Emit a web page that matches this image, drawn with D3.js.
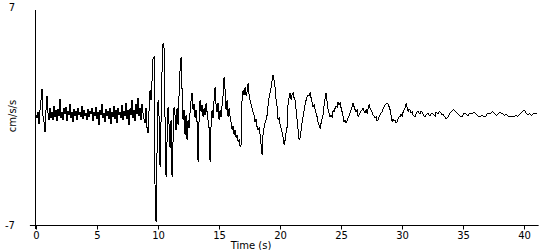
<!DOCTYPE html>
<html>
<head>
<meta charset="utf-8">
<script src="https://cdn.jsdelivr.net/npm/d3@7"></script>
<style>
	body { margin: 0; background: #fff; }
	text { font-family: "DejaVu Sans", sans-serif; font-size: 10px; fill: #000; }
</style>
</head>
<body>
<div id="chart-area"></div>
<script>

const width = 550;
const height = 250;
const margin = {top: 7, right: 26, bottom: 25, left: 36};

// sample interval of the record (s), first sample at t = 0
const sampleInterval = 0.082;

// acceleration samples (cm/s/s)
const accel = [
	0.06, -0.13, 0.26, -0.51, 0.39, 1.03, 1.74, 0, -0.39, -1.03,
	0.39, 1.29, 0.19, -0.26, 0.51, -0.13, 0.26, -0.26, 0.64, -0.06,
	0.39, -0.32, 0.45, 0, 1.09, -0.13, 0.26, -0.26, 0.51, 0.13,
	0.58, -0.32, 0.32, 0.06, 0.77, -0.13, 0.26, -0.39, 0.45, 0,
	0.32, -0.26, 0.51, 0.06, 0.26, -0.06, 0.64, -0.19, 0.39, 0,
	0.19, -0.26, 0.45, -0.06, 0.32, 0.13, 0.51, -0.32, 0.26, 0,
	0.58, -0.19, 0.26, -0.58, 0.39, 0.06, 0.77, -0.13, 0.19, -0.39,
	0.45, 0, 0.32, -0.19, 0.51, -0.51, 0.26, -0.06, 0.64, -0.19,
	0.39, -0.45, 0.51, 0.06, 0.26, -0.13, 0.71, -0.26, 0.32, 0,
	0.84, -0.19, 0.39, -0.58, 0.51, 0.06, 1.03, -0.13, 0.39, -0.32,
	0.77, 0.13, 1.16, 0, 0.51, -0.26, 0.77, 0.19, -0.19, -0.45,
	0.51, -0.77, -1.09, 0.39, 1.67, 1.03, 2.31, 3.73, 3.79, -4.76,
	-6.82, -2.19, 1.03, -0.06, -3.28, -0.26, 2.96, 4.69, 4.37, -0.26,
	-3.92, -1.54, 0.58, -0.58, -2.06, -0.26, -3.92, -1.54, 0.58, 0.06,
	-0.90, 0.51, -0.58, 1.35, 2.96, 3.79, 1.67, -0.26, 0.39, -1.22,
	0.06, -1.54, -0.26, -0.77, 0.26, 1.03, 1.48, 0.39, 0.77, -0.13,
	0.39, -0.39, -2.96, -0.26, 1.03, 0.26, 0.71, -0.06, 0.51, 0.06,
	0.84, 0.26, -0.26, -0.77, -2.96, -0.58, 0.39, -0.13, 1.03, 1.86,
	0.71, 0.26, 0.84, -0.26, 0.39, -0.06, 0.71, 1.35, 2.51, 1.67,
	0.39, 1.03, -0.06, 0.51, -0.06, -0.39, -0.90, -0.64, -1.22, -0.90,
	-1.41, -1.22, -1.67, -1.54, -1.99, -1.86, 1.16, 1.67, 1.35, 1.86,
	1.29, 1.54, 2.12, 1.35, 1.03, 0.77, 0.51, 0.26, 0.06, -0.39,
	-0.19, -0.71, -0.90, -0.77, -1.22, -1.86, -2.51, -1.09, -0.77, -0.45,
	-0.26, 0.06, 0.71, 1.22, 1.48, 1.80, 2.31, 2.64, 2.31, 1.80,
	1.03, 0.58, -0.26, -0.13, -0.58, -0.77, -1.03, -1.41, -1.86, -1.54,
	-1.03, -0.71, 0.84, 1.16, 1.48, 1.03, 1.35, 1.48, 1.16, 1.03,
	0.39, -0.26, -0.90, -1.54, -1.41, -0.90, -0.39, -0.06, 0.39, 0.71,
	1.03, 1.22, 1.35, 1.29, 1.48, 1.16, 0.84, 0.58, 0.71, 0.39,
	0.19, -0.06, -0.39, -0.58, -0.77, -0.45, -0.13, 0.06, 0.71, 1.16,
	1.48, 0.90, 0.39, 0.19, -0.06, 0.06, -0.06, 0.39, 0.26, 0.51,
	0.64, 0.58, 0.90, 0.71, 0.84, 0.51, 0.26, -0.06, -0.39, -0.26,
	-0.45, -0.32, -0.13, 0, 0.19, 0.39, 0.58, 0.84, 0.58, 0.39,
	0.26, 0.39, -0.06, 0.06, 0.19, 0.32, 0.39, 0.51, 0.32, 0.19,
	0.39, 0.19, 0.51, 0.71, 0.51, 0.39, 0.26, 0.06, 0, -0.13,
	-0.06, -0.32, -0.26, -0.06, 0.06, 0.19, 0.26, 0.45, 0.58, 0.71,
	0.77, 0.84, 0.77, 0.58, 0.39, 0, -0.39, -0.19, -0.32, -0.26,
	-0.45, -0.39, -0.19, -0.06, -0.06, 0.13, 0, 0.26, 0.39, 0.51,
	0.84, 0.51, 0.26, 0.45, 0.39, 0.19, 0.26, 0.06, 0, -0.06,
	0.13, 0.26, 0.32, 0.19, 0.13, 0.32, 0.26, 0.13, 0, -0.06,
	0.06, 0.13, 0.19, 0.06, 0, 0.13, 0.19, 0.13, 0.06, 0,
	0.26, 0.19, 0.13, 0.26, 0.26, 0.19, 0.06, 0.13, 0, -0.06,
	-0.19, -0.13, -0.06, 0.06, 0.19, 0.26, 0.32, 0.39, 0.39, 0.32,
	0.26, 0.19, 0.13, 0.06, 0, -0.06, -0.06, 0.06, 0.19, 0.19,
	0.13, 0.06, 0, 0.13, 0.19, 0.13, 0.13, 0.19, 0.26, 0.19,
	0.13, 0.06, 0, -0.06, -0.06, 0, 0.06, 0, -0.06, 0,
	0, 0.13, 0.19, 0.19, 0.13, 0.19, 0.26, 0.26, 0.19, 0.13,
	0.06, 0.06, 0.13, 0.19, 0.26, 0.19, 0.13, 0.13, 0.06, 0.06,
	0.13, 0.06, 0, 0, -0.06, 0, 0, -0.06, -0.06, 0,
	0.06, 0, 0, 0.06, 0.13, 0.19, 0.26, 0.32, 0.39, 0.32,
	0.19, 0.13, 0.06, 0.13, 0.13, 0.06, 0.06, 0.13, 0.13, 0.13,
	0.13, 0.13
];

// axis ticks
const timeTicks = [0, 5, 10, 15, 20, 25, 30, 35, 40];
const accelTicks = [-7, 7];

var svg = d3.select("#chart-area").append("svg")
	.attr("width", width)
	.attr("height", height);

// 比例尺
var x = d3.scaleLinear()
	.domain([0, 40])
	.range([margin.left, 524]);

var y = d3.scaleLinear()
	.domain([-7, 7])
	.range([height - margin.bottom, margin.top]);

var line = d3.line()
	.x((d, i) => x(i * sampleInterval))
	.y(d => y(d));

// 轴线
svg.append("line")
	.attr("x1", x(-0.5)).attr("x2", x(41.2))
	.attr("y1", y(-7) + 0.5).attr("y2", y(-7) + 0.5)
	.attr("stroke", "#000");
svg.append("line")
	.attr("x1", x(0) - 0.5).attr("x2", x(0) - 0.5)
	.attr("y1", y(7) + 3).attr("y2", y(-7) + 4)
	.attr("stroke", "#000");

// x轴
var gx = svg.append("g")
	.attr("transform", `translate(0,${y(-7) + 0.5})`)
	.call(d3.axisBottom(x).tickValues(timeTicks).tickSize(4).tickSizeOuter(0).tickPadding(2));
gx.select(".domain").remove();
gx.selectAll("text").style("font-size", "10px").attr("font-family", null);

// y轴 (only the two end labels, plain hyphen)
var gy = svg.append("g")
	.attr("transform", `translate(${x(0)},0)`)
	.call(d3.axisLeft(y).tickValues(accelTicks).tickFormat(d => String(d)).tickSize(0).tickPadding(21));
gy.select(".domain").remove();
gy.selectAll("text").style("font-size", "10px").attr("font-family", null);

// trace
svg.append("path")
	.datum(accel)
	.attr("fill", "none")
	.attr("stroke", "#000")
	.attr("stroke-width", 1)
	.attr("shape-rendering", "crispEdges")
	.attr("d", line);

// 轴标题
svg.append("text")
	.attr("x", 251)
	.attr("y", 249)
	.style("text-anchor", "middle")
	.text("Time (s)");
svg.append("text")
	.attr("transform", `translate(16,${y(0)}) rotate(-90)`)
	.style("text-anchor", "middle")
	.text("cm/s/s");

</script>
</body>
</html>
